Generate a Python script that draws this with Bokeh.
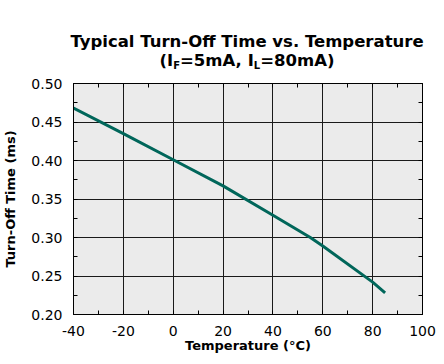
from bokeh.plotting import figure
from bokeh.models import (Div, LinearAxis, SingleIntervalTicker, CustomJSTickFormatter,
                          PrintfTickFormatter, Range1d)
from bokeh.layouts import column
from bokeh.embed import file_html
from bokeh.resources import INLINE

# Data
temps = [-40, -20, 0, 20, 40, 55, 60, 80, 85]
toff = [0.468, 0.435, 0.401, 0.367, 0.329, 0.300, 0.289, 0.242, 0.228]

x_start, x_end, x_step = -40, 100, 20
y_start, y_end, y_step = 0.20, 0.50, 0.05

title_line1 = "Typical Turn-Off Time vs. Temperature"
x_label = "Temperature (°C)"
y_label = "Turn-Off Time (ms)"

FONT = "DejaVu Sans"

p = figure(width=436, height=285,
           x_range=Range1d(x_start, x_end), y_range=Range1d(y_start, y_end),
           output_backend="svg", toolbar_location=None,
           min_border_left=66, min_border_right=14, min_border_top=13, min_border_bottom=41,
           background_fill_color="#ebebeb", border_fill_color="white",
           x_axis_label=x_label, y_axis_label=y_label)

xt = SingleIntervalTicker(interval=x_step, num_minor_ticks=2)
yt = SingleIntervalTicker(interval=y_step, num_minor_ticks=2)

p.xaxis.ticker = xt
p.yaxis.ticker = yt
p.xaxis.formatter = PrintfTickFormatter(format="%d")
p.yaxis.formatter = PrintfTickFormatter(format="%.2f")
p.xgrid.ticker = xt
p.ygrid.ticker = yt
p.grid.grid_line_color = "#1a1a1a"
p.grid.grid_line_width = 1

p.outline_line_color = "black"
p.outline_line_width = 1

for ax in (p.xaxis[0], p.yaxis[0]):
    ax.axis_line_color = "black"
    ax.major_tick_in = 0
    ax.major_tick_out = 0
    ax.minor_tick_in = 4
    ax.minor_tick_out = 0
    ax.minor_tick_line_color = "black"
    ax.major_label_text_font = FONT
    ax.major_label_text_font_size = "14px"
    ax.major_label_text_color = "black"
    ax.axis_label_text_font = FONT
    ax.axis_label_text_font_size = "13px"
    ax.axis_label_text_font_style = "bold"
    ax.axis_label_text_color = "black"

p.xaxis.major_label_standoff = 11
p.xaxis.axis_label_standoff = -1
p.yaxis.major_label_standoff = 11
p.yaxis.axis_label_standoff = 10

empty = CustomJSTickFormatter(code="return ''")
common = dict(formatter=empty, major_tick_in=0, major_tick_out=0,
              minor_tick_in=4, minor_tick_out=0, major_label_standoff=0,
              axis_label_standoff=0, major_label_text_font_size="0px",
              axis_line_color="black", minor_tick_line_color="black")
top = LinearAxis(ticker=xt, **common)
right = LinearAxis(ticker=yt, **common)
p.add_layout(top, "above")
p.add_layout(right, "right")

p.line(temps, toff, line_color="#00665a", line_width=3)

sub = '<span style="font-size:10px;position:relative;top:3px;line-height:0">{}</span>'
title_html = (title_line1 + "<br>(I" + sub.format("F") + "=5mA, I" + sub.format("L") + "=80mA)")
div = Div(text=title_html, width=360, height=38, margin=(32, 0, 0, 67),
          styles={"text-align": "center", "font-family": FONT, "font-weight": "bold",
                  "font-size": "16.5px", "line-height": "19px", "color": "black",
                  "white-space": "nowrap"})

layout = column(div, p)
open("out.html", "w").write(file_html(layout, INLINE))
